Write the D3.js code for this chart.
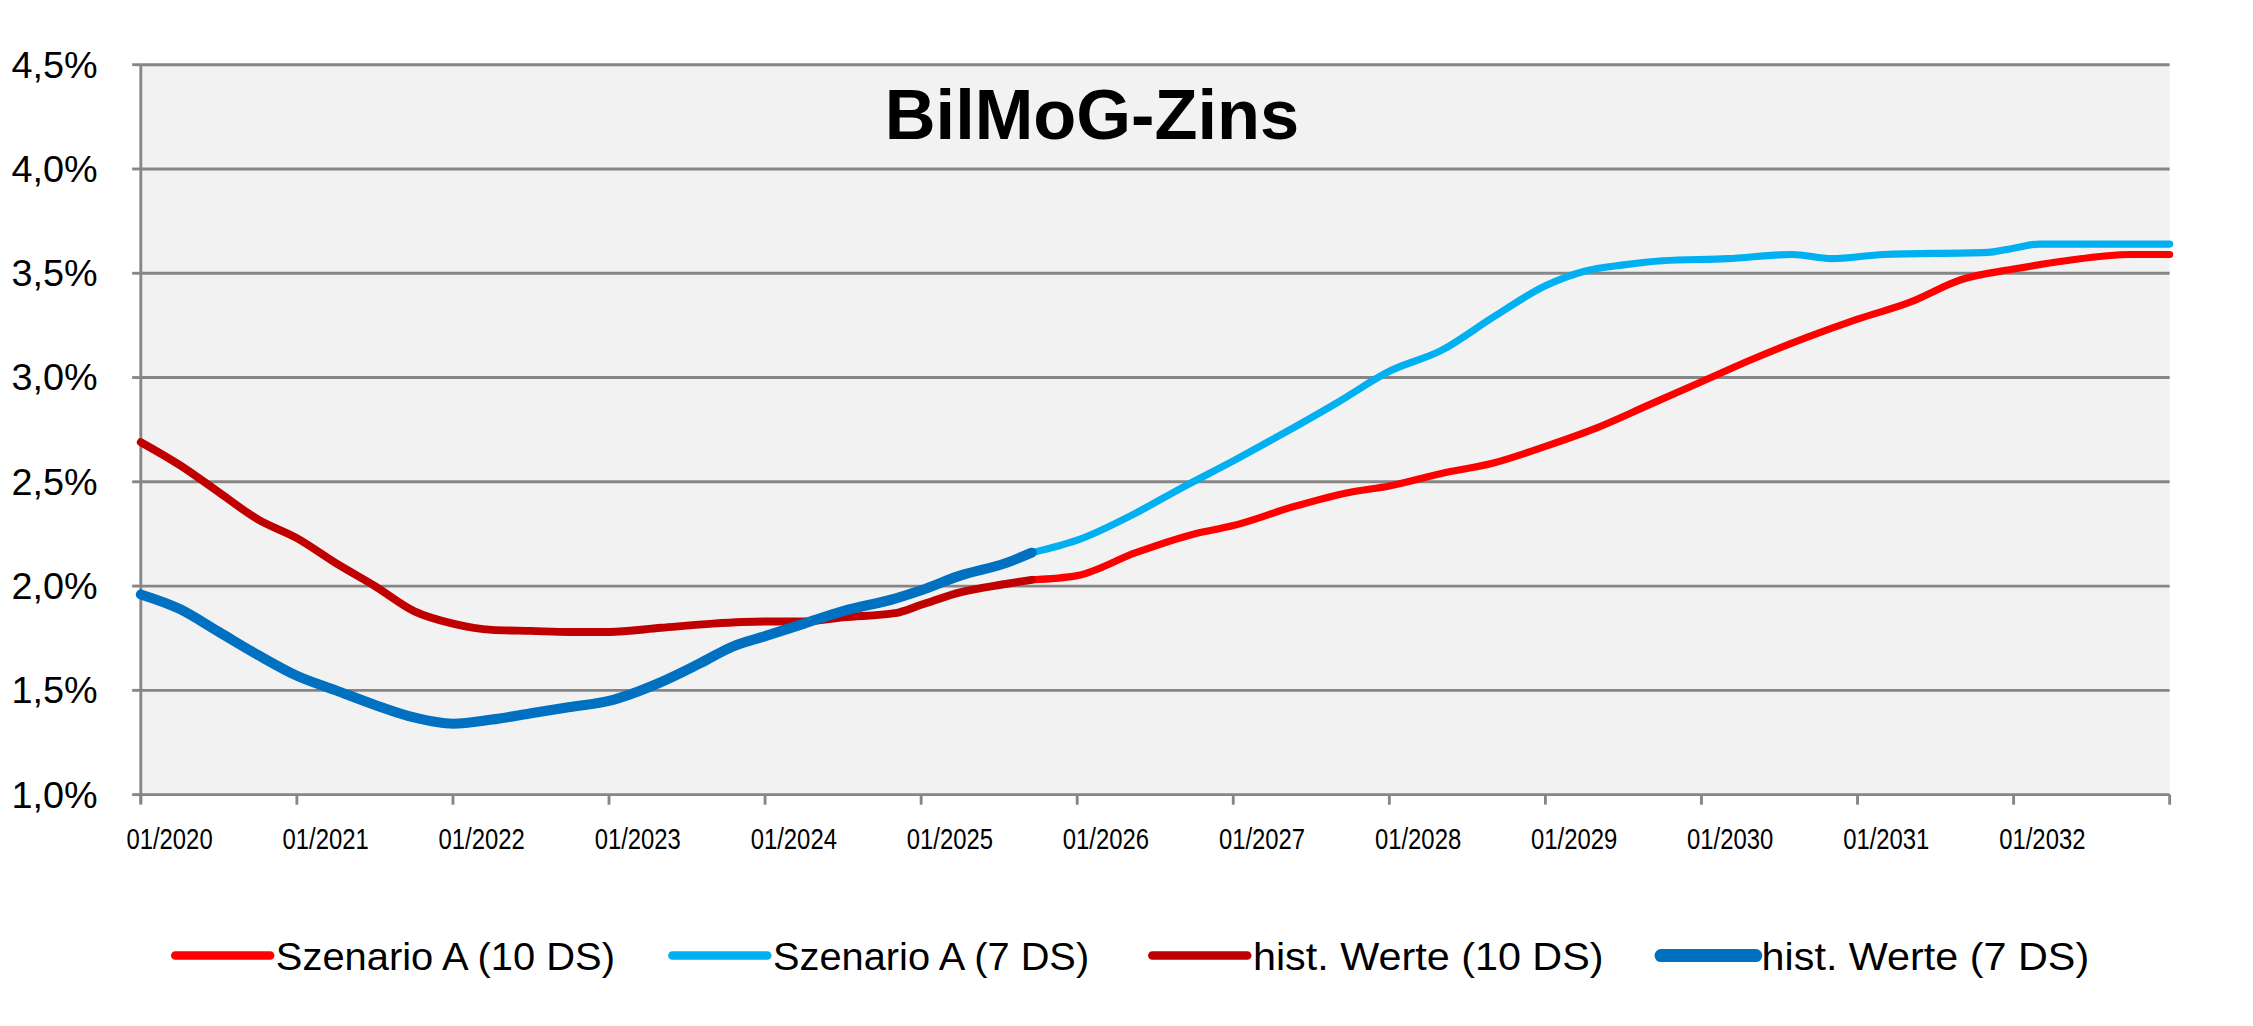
<!DOCTYPE html>
<html><head><meta charset="utf-8">
<script src="https://cdn.jsdelivr.net/npm/d3@7"></script>
<style>body{margin:0;background:#fff}</style></head>
<body><svg id="c" width="2253" height="1026" viewBox="0 0 1568 714"></svg>
<script>
// months since 01/2020
const hist10M = [0,3,6,9,12,15,18,21,24,27,30,33,36,40,44,48,51,54,58,60,63,66.5,68.5];
const hist10V = [2.69,2.58,2.45,2.32,2.23,2.11,2.00,1.88,1.82,1.79,1.785,1.78,1.78,1.80,1.82,1.83,1.83,1.85,1.87,1.91,1.97,2.01,2.03];
const scen10M = [68.5,72,76.5,81,84,88.6,93,96,100,104,108,112,116,120,124,128,132,136,140,144,148,153,156];
const scen10V = [2.03,2.05,2.16,2.25,2.29,2.38,2.45,2.48,2.54,2.59,2.67,2.76,2.87,2.98,3.09,3.19,3.28,3.36,3.47,3.52,3.56,3.59,3.59];
const hist7M = [0,3,6,9,12,15,18,21,24,27,30,33,36,40,43,45.5,48,51,54,58,60,63,66.5,68.5];
const hist7V = [1.96,1.89,1.78,1.67,1.57,1.50,1.43,1.37,1.34,1.36,1.39,1.42,1.45,1.54,1.63,1.71,1.76,1.82,1.88,1.94,1.98,2.05,2.11,2.16];
const scen7M = [68.5,72,76.5,80,84,87.5,92,96,100,104,108,111,114,117,122,127,130,134,142,144,146,156];
const scen7V = [2.16,2.22,2.35,2.47,2.60,2.72,2.88,3.03,3.13,3.29,3.44,3.51,3.54,3.56,3.57,3.59,3.57,3.59,3.60,3.62,3.64,3.64];
const yTicks = [1.0,1.5,2.0,2.5,3.0,3.5,4.0,4.5];
const xYears = d3.range(2020,2033);
const legendNames = ["Szenario A (10 DS)","Szenario A (7 DS)","hist. Werte (10 DS)","hist. Werte (7 DS)"];
const colors = ["#FF0000","#00B0F0","#C00000","#0070C0"];

const svg = d3.select("#c");
const L=98,R=1510,T=45,B=553;
const x = d3.scaleLinear().domain([0,156]).range([L,R]);
const y = d3.scaleLinear().domain([1,4.5]).range([B,T]);
const font = "'Liberation Sans',Arial,sans-serif";
svg.append("rect").attr("x",L).attr("y",T).attr("width",R-L).attr("height",B-T).attr("fill","#F2F2F2");
svg.selectAll(".g").data(yTicks).join("line").attr("x1",L).attr("x2",R)
  .attr("y1",d=>y(d)).attr("y2",d=>y(d)).attr("stroke","#868686").attr("stroke-width",2);
svg.append("line").attr("x1",L).attr("x2",L).attr("y1",T).attr("y2",B+6).attr("stroke","#868686").attr("stroke-width",2);
svg.selectAll(".yl").data(yTicks).join("text").attr("x",68).attr("y",d=>y(d)+9)
  .attr("text-anchor","end").attr("font-family",font).attr("font-size",26)
  .attr("textLength",60).attr("lengthAdjust","spacingAndGlyphs")
  .text(d=>d3.format(".1f")(d).replace(".",",")+"%");
svg.selectAll(".yt").data(yTicks).join("line").attr("x1",L-6).attr("x2",L).attr("y1",d=>y(d)).attr("y2",d=>y(d)).attr("stroke","#868686").attr("stroke-width",2);
svg.selectAll(".xt").data(d3.range(0,157,12)).join("line").attr("x1",d=>x(d)).attr("x2",d=>x(d))
  .attr("y1",B).attr("y2",B+7).attr("stroke","#868686").attr("stroke-width",2);
svg.selectAll(".xl").data(xYears).join("text").attr("x",d=>x((d-2020)*12)-10).attr("y",B+38)
  .attr("font-family",font).attr("font-size",21)
  .attr("textLength",60).attr("lengthAdjust","spacingAndGlyphs").text(d=>"01/"+d);
svg.append("text").attr("x",760).attr("y",97).attr("text-anchor","middle").attr("font-family",font)
  .attr("font-weight","bold").attr("font-size",49).text("BilMoG-Zins");
const line = d3.line().x(d=>x(d[0])).y(d=>y(d[1])).curve(d3.curveMonotoneX);
const series = [[scen10M,scen10V,colors[0],5],[scen7M,scen7V,colors[1],5],[hist10M,hist10V,colors[2],5.5],[hist7M,hist7V,colors[3],7]];
series.forEach(s=>{
  svg.append("path").attr("d",line(d3.zip(s[0],s[1]))).attr("fill","none")
    .attr("stroke",s[2]).attr("stroke-width",s[3]).attr("stroke-linecap","round");
});
const lx=[122,468,802,1156];
const lw=[236,220,244,228];
legendNames.forEach((n,i)=>{
  svg.append("line").attr("x1",lx[i]).attr("x2",lx[i]+66).attr("y1",665).attr("y2",665)
    .attr("stroke",colors[i]).attr("stroke-width",i==3?9:6).attr("stroke-linecap","round");
  svg.append("text").attr("x",lx[i]+70).attr("y",675).attr("font-family",font).attr("font-size",27)
    .attr("textLength",lw[i]).attr("lengthAdjust","spacingAndGlyphs").text(n);
});
</script></body></html>
